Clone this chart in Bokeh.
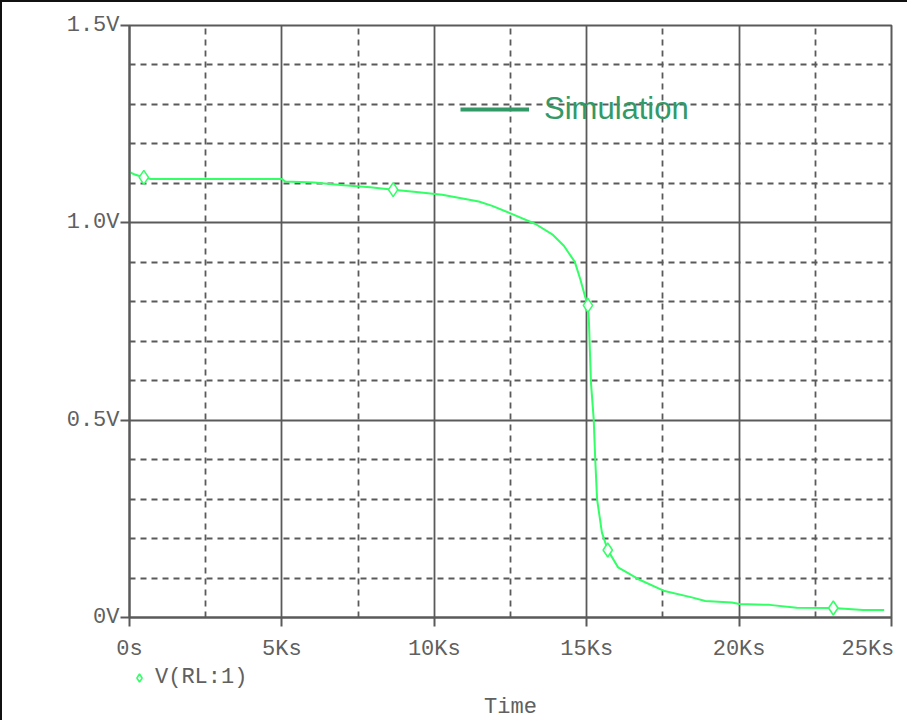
from bokeh.plotting import figure
from bokeh.layouts import column
from bokeh.models import (Range1d, FixedTicker, Legend, LegendItem, Title, ColumnDataSource)
from bokeh.embed import file_html
from bokeh.resources import INLINE

# ---- data (time in seconds, voltage in V) ----
time_s = [0, 150, 470, 700, 5000, 5100, 6050, 7030, 7900, 8650, 9330, 10260,
          11460, 11900, 12560, 13320, 13870, 14250, 14610, 14790, 14940, 15040, 15070,
          15140, 15230, 15280, 15340, 15500, 15690, 16030, 16700, 17520, 18450,
          18890, 19760, 20010, 21000, 21890, 23090, 24070, 24760]
volts = [1.129, 1.123, 1.115, 1.111, 1.111, 1.105, 1.102, 1.095, 1.090, 1.084, 1.079, 1.071,
         1.054, 1.043, 1.022, 0.997, 0.971, 0.942, 0.901, 0.857, 0.815, 0.791, 0.756,
         0.595, 0.502, 0.401, 0.300, 0.215, 0.171, 0.127, 0.097, 0.068, 0.051,
         0.042, 0.038, 0.034, 0.032, 0.025, 0.024, 0.019, 0.019]
marker_t = [470, 8650, 15040, 15690, 23090]
marker_v = [1.115, 1.084, 0.791, 0.171, 0.024]

x_ticks = [0, 5000, 10000, 15000, 20000, 25000]
x_tick_labels = ["0s", "5Ks", "10Ks", "15Ks", "20Ks", "25Ks"]
x_minor = [2500, 7500, 12500, 17500, 22500]
y_ticks = [0, 0.5, 1.0, 1.5]
y_tick_labels = ["0V", "0.5V", "1.0V", "1.5V"]
y_minor = [0.1, 0.2, 0.3, 0.4, 0.6, 0.7, 0.8, 0.9, 1.1, 1.2, 1.3, 1.4]

trace_name = "V(RL:1)"
legend_name = "Simulation"
x_title = "Time"

GRID = "#5a5a5a"
TXT = "#606060"
TRACE = "#33ff66"
MONO = "Liberation Mono"
NBSP = "\u00a0"
W = 905

p = figure(width=W, height=662, output_backend="svg", toolbar_location=None,
           x_range=Range1d(0, 25000), y_range=Range1d(0, 1.5),
           min_border_left=127, min_border_right=16, min_border_top=23, min_border_bottom=47)
p.outline_line_color = GRID
p.outline_line_width = 2
p.background_fill_color = "white"
p.border_fill_color = "white"

# ticks and grids
p.xaxis.ticker = FixedTicker(ticks=x_ticks, minor_ticks=x_minor)
p.yaxis.ticker = FixedTicker(ticks=y_ticks, minor_ticks=y_minor)
over_x = {t: l for t, l in zip(x_ticks, x_tick_labels)}
# last label sits against the frame edge (padded with a no-break space)
over_x[x_ticks[-1]] = x_tick_labels[-1] + NBSP
p.xaxis.major_label_overrides = over_x
p.yaxis.major_label_overrides = {t: l for t, l in zip(y_ticks, y_tick_labels)}

for ax in (p.xaxis, p.yaxis):
    ax.axis_line_color = GRID
    ax.axis_line_width = 2
    ax.major_tick_line_color = GRID
    ax.major_tick_line_width = 2
    ax.major_tick_out = 9
    ax.major_tick_in = 0
    ax.minor_tick_line_color = None
    ax.major_label_text_font = MONO
    ax.major_label_text_font_size = "22px"
    ax.major_label_text_color = TXT
p.yaxis.major_label_standoff = 1
p.xaxis.major_label_standoff = 10

for g in (p.xgrid, p.ygrid):
    g.grid_line_color = GRID
    g.grid_line_width = 1.8
    g.minor_grid_line_color = GRID
    g.minor_grid_line_width = 1.8
    g.minor_grid_line_dash = "6 5"

# data
src = ColumnDataSource(dict(t=time_s, v=volts))
p.line("t", "v", source=src, line_color=TRACE, line_width=2)
msrc = ColumnDataSource(dict(t=marker_t, v=marker_v))
p.scatter("t", "v", source=msrc, marker="diamond", size=14,
          line_color=TRACE, fill_color="white", line_width=1.5)

# "Simulation" legend
dummy = p.line(x=[float("nan")], y=[float("nan")], line_color="#339966", line_width=4)
leg1 = Legend(items=[LegendItem(label=legend_name, renderers=[dummy])],
              location=(331, 490), glyph_width=69, glyph_height=20, label_standoff=15,
              label_text_font="Liberation Sans", label_text_font_size="31px",
              label_text_color="#339966", background_fill_alpha=0, border_line_alpha=0,
              padding=0, margin=0, spacing=0)
p.add_layout(leg1)

# ---- strip below: trace legend and the axis title ----
p2 = figure(width=W, height=56, output_backend="svg", toolbar_location=None,
            x_range=p.x_range, y_range=Range1d(0, 1),
            x_axis_location=None, y_axis_location=None,
            min_border_left=127, min_border_right=16, min_border_top=0, min_border_bottom=0)
p2.outline_line_color = None
p2.grid.visible = False
p2.background_fill_color = "white"
p2.border_fill_color = "white"
mk2 = p2.scatter(x=[float("nan")], y=[float("nan")], marker="diamond", size=12,
                 line_color=TRACE, fill_color="white", line_width=1.5)
leg2 = Legend(items=[LegendItem(label=trace_name, renderers=[mk2])],
              location=(0, 1), glyph_width=20, glyph_height=25, label_standoff=6,
              label_text_font=MONO, label_text_font_size="22px", label_text_color=TXT,
              background_fill_alpha=0, border_line_alpha=0, padding=0, margin=0, spacing=0)
p2.add_layout(leg2)
p2.add_layout(Title(text=x_title, align="center", text_font=MONO, text_font_size="22px",
                    text_font_style="normal", text_color=TXT, standoff=2), "below")

layout = column(p, p2, spacing=0)
layout.styles = {"border-left": "2px solid #111", "border-top": "2px solid #111"}

open("out.html", "w").write(file_html(layout, INLINE))
